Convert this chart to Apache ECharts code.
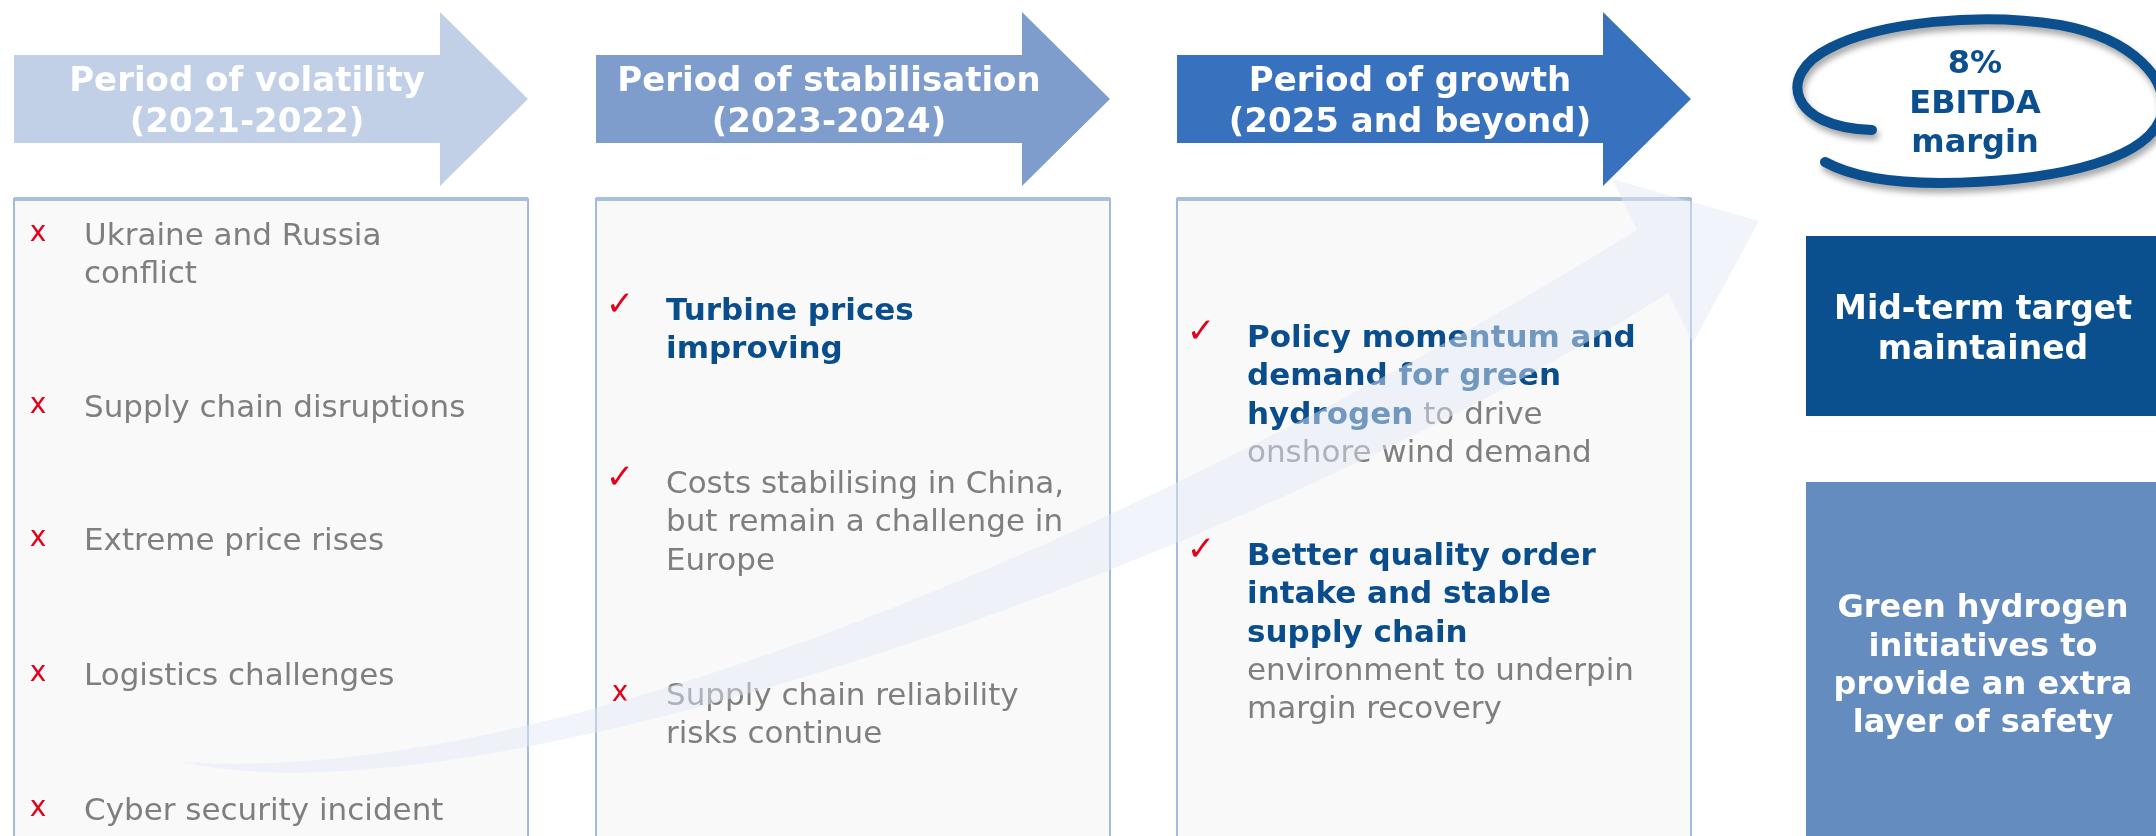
<!DOCTYPE html>
<html>
<head>
<meta charset="utf-8">
<script src="https://cdn.jsdelivr.net/npm/echarts@6/dist/echarts.min.js"></script>
<style>
  html, body { margin: 0; padding: 0; background: #fff; }
  #chart { width: 2156px; height: 836px; }
</style>
</head>
<body>
<div id="chart"></div>
<script>
// ---- content ----
const phaseTitles = [
  ['Period of volatility', '(2021-2022)'],
  ['Period of stabilisation', '(2023-2024)'],
  ['Period of growth', '(2025 and beyond)']
];
const volatilityItems = [
  { mark: 'x', lines: ['Ukraine and Russia', 'conflict'] },
  { mark: 'x', lines: ['Supply chain disruptions'] },
  { mark: 'x', lines: ['Extreme price rises'] },
  { mark: 'x', lines: ['Logistics challenges'] },
  { mark: 'x', lines: ['Cyber security incident'] }
];
const stabilisationItems = [
  { mark: '✓', lines: ['{b|Turbine prices}', '{b|improving}'] },
  { mark: '✓', lines: ['Costs stabilising in China,', 'but remain a challenge in', 'Europe'] },
  { mark: 'x', lines: ['Supply chain reliability', 'risks continue'] }
];
const growthItems = [
  { mark: '✓', lines: ['{b|Policy momentum and}', '{b|demand for green}', '{b|hydrogen} to drive', 'onshore wind demand'] },
  { mark: '✓', lines: ['{b|Better quality order}', '{b|intake and stable}', '{b|supply chain}', 'environment to underpin', 'margin recovery'] }
];
const targetLines = ['8%', 'EBITDA', 'margin'];
const midTermLines = ['Mid-term target', 'maintained'];
const hydrogenLines = ['Green hydrogen', 'initiatives to', 'provide an extra', 'layer of safety'];

// ---- layout / style ----
const FAM = '"DejaVu Sans", Verdana, sans-serif';
const arrowColors = ['#C1D0E6', '#7E9DCD', '#3871BE'];
const colX = [14, 596, 1177];
const itemTops = [[237, 409, 542, 677, 812], [312, 485, 697], [339, 557]];
const LH = 38.3;
const GRAY = '#7F7F7F', BLUE = '#0A4D8C', RED = '#E2001A';

// free-form path shape (moveTo / lineTo / bezier)
const CurvePath = echarts.graphic.extendShape({
  type: 'curvePath',
  shape: { segs: [] },
  buildPath: function (ctx, shape) {
    shape.segs.forEach(function (s) {
      if (s[0] === 'M') ctx.moveTo(s[1], s[2]);
      else if (s[0] === 'L') ctx.lineTo(s[1], s[2]);
      else if (s[0] === 'C') ctx.bezierCurveTo(s[1], s[2], s[3], s[4], s[5], s[6]);
      else if (s[0] === 'Z') ctx.closePath();
    });
  }
});
echarts.graphic.registerShape('curvePath', CurvePath);

function txt(x, y, text, font, fill, align, z) {
  return {
    type: 'text', x: x, y: y, z: z || 5,
    style: {
      text: text, font: font, fill: fill,
      align: align || 'left', verticalAlign: 'middle',
      textAlign: align || 'left', textVerticalAlign: 'middle',
      rich: { b: { font: 'bold 31px ' + FAM, fill: BLUE } }
    }
  };
}

function creatChart() {
  const chart = echarts.init(document.getElementById('chart'));
  const els = [];
  const columns = [volatilityItems, stabilisationItems, growthItems];

  colX.forEach(function (x0, i) {
    // header arrow
    els.push({
      type: 'polygon', z: 1,
      shape: { points: [[x0, 55], [x0 + 426, 55], [x0 + 426, 12], [x0 + 514, 99], [x0 + 426, 186], [x0 + 426, 143], [x0, 143]] },
      style: { fill: arrowColors[i] }
    });
    phaseTitles[i].forEach(function (t, k) {
      els.push(txt(x0 + 233, 82 + k * 41, t, 'bold 34px ' + FAM, '#fff', 'center'));
    });
    // box
    els.push({
      type: 'rect', z: 1,
      shape: { x: x0, y: 199, width: 514, height: 700 },
      style: { fill: '#F9F9F9', stroke: '#A3B9DD', lineWidth: 2 }
    });
    els.push({
      type: 'line', z: 2,
      shape: { x1: x0, y1: 199, x2: x0 + 514, y2: 199 },
      style: { stroke: '#A9BFE0', lineWidth: 4 }
    });
    // bullets
    columns[i].forEach(function (item, j) {
      const y0 = itemTops[i][j];
      const isCheck = item.mark === '✓';
      els.push(txt(x0 + 24, y0 - (isCheck ? 6 : 3), item.mark, (isCheck ? '34px ' : '28px ') + FAM, RED, 'center'));
      item.lines.forEach(function (l, k) {
        els.push(txt(x0 + 70, y0 + k * LH, l, '31px ' + FAM, GRAY, 'left'));
      });
    });
  });

  // faint growth swoosh over the boxes
  els.push({
    type: 'curvePath', z: 20,
    shape: {
      segs: [
        ['M', 183, 762],
        ['C', 600, 790, 1250, 470, 1637, 230],
        ['L', 1612, 179], ['L', 1759, 221], ['L', 1693, 343], ['L', 1668, 293],
        ['C', 1250, 560, 480, 830, 183, 762],
        ['Z']
      ]
    },
    style: { fill: 'rgba(226,234,246,0.48)' }
  });

  // target ellipse
  els.push({
    type: 'curvePath', z: 10,
    shape: {
      segs: [
        ['M', 1872, 130],
        ['C', 1790, 128, 1775, 75, 1830, 48],
        ['C', 1880, 22, 1980, 12, 2060, 25],
        ['C', 2130, 38, 2175, 80, 2160, 120],
        ['C', 2140, 165, 2040, 182, 1940, 183],
        ['C', 1880, 183, 1845, 173, 1825, 162]
      ]
    },
    style: {
      fill: null, stroke: '#0B4F8E', lineWidth: 10, lineCap: 'round',
      shadowBlur: 6, shadowColor: 'rgba(0,0,0,0.35)', shadowOffsetX: 2, shadowOffsetY: 5
    }
  });
  targetLines.forEach(function (t, k) {
    els.push(txt(1975, 65 + k * 39.5, t, 'bold 32px ' + FAM, '#0B4F8E', 'center', 11));
  });

  // right side boxes
  els.push({ type: 'rect', z: 1, shape: { x: 1806, y: 236, width: 360, height: 180 }, style: { fill: '#0A4F8E' } });
  midTermLines.forEach(function (t, k) {
    els.push(txt(1983, 310 + k * 40, t, 'bold 33px ' + FAM, '#fff', 'center'));
  });
  els.push({ type: 'rect', z: 1, shape: { x: 1806, y: 482, width: 360, height: 370 }, style: { fill: '#648CBF' } });
  hydrogenLines.forEach(function (t, k) {
    els.push(txt(1983, 609 + k * 38.3, t, 'bold 32px ' + FAM, '#fff', 'center'));
  });

  chart.setOption({ animation: false, graphic: { elements: els } });
}

window.onload = function () {
  creatChart();
};
</script>
</body>
</html>
